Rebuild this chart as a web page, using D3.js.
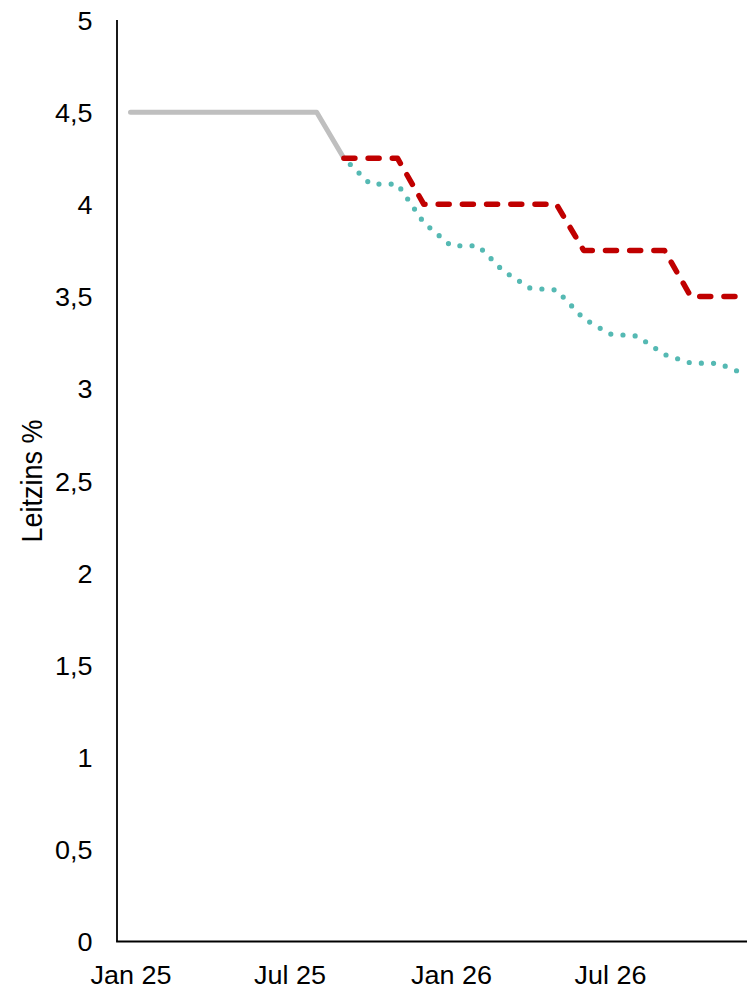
<!DOCTYPE html>
<html>
<head>
<meta charset="utf-8">
<script src="https://cdn.jsdelivr.net/npm/d3@7"></script>
<style>
  html, body { margin: 0; padding: 0; background: #fff; }
  svg { display: block; }
  text { font-family: "Liberation Sans", Arial, sans-serif; fill: #000; }
</style>
</head>
<body>
<svg id="chart" width="747" height="991"></svg>
<script>
// ---- data ----
const actualMonths = ["2025-01","2025-02","2025-03","2025-04","2025-05","2025-06","2025-07","2025-08","2025-09"];
const actualRate   = [4.5, 4.5, 4.5, 4.5, 4.5, 4.5, 4.5, 4.5, 4.25];

const forecastMonths = ["2025-09","2025-10","2025-11","2025-12","2026-01","2026-02","2026-03","2026-04",
                        "2026-05","2026-06","2026-07","2026-08","2026-09","2026-10","2026-11","2026-12"];
const redRate  = [4.25, 4.25, 4.25, 4.0, 4.0, 4.0, 4.0, 4.0, 4.0, 3.75, 3.75, 3.75, 3.75, 3.5, 3.5, 3.5];
const tealRate = [4.25, 4.11, 4.11, 3.90, 3.775, 3.775, 3.64, 3.545, 3.535, 3.38, 3.296, 3.285, 3.185, 3.139, 3.137, 3.08];

const xTickMonths = ["2025-01","2025-07","2026-01","2026-07"];
const xTickLabels = ["Jan 25","Jul 25","Jan 26","Jul 26"];
const yTicks = [0, 0.5, 1, 1.5, 2, 2.5, 3, 3.5, 4, 4.5, 5];
const yTitle = "Leitzins %";

// ---- setup ----
const parse = d3.timeParse("%Y-%m");
const svg = d3.select("#chart");
const W = 747, H = 991;
const stretch = 1.08;
svg.append("rect").attr("width", W).attr("height", H).attr("fill", "#fff");

const plotLeft = 117, plotRight = 747;
const x = d3.scaleTime()
  .domain([parse("2025-01"), parse("2026-07")])
  .range([130.5, 610]);
const y = d3.scaleLinear().domain([0, 5]).range([941.5, 20]);

// ---- axes lines ----
svg.append("line")
  .attr("x1", plotLeft).attr("x2", plotLeft)
  .attr("y1", y(5)).attr("y2", y(0))
  .attr("stroke", "#000").attr("stroke-width", 1.8);
svg.append("line")
  .attr("x1", plotLeft - 0.9).attr("x2", plotRight)
  .attr("y1", y(0)).attr("y2", y(0))
  .attr("stroke", "#000").attr("stroke-width", 1.8);

// ---- y axis labels ----
const fmt = d => String(d).replace(".", ",");
const yAxis = svg.append("g")
  .attr("transform", `translate(${plotLeft},0)`)
  .call(d3.axisLeft(y).tickValues(yTicks).tickSize(0).tickPadding(25).tickFormat(fmt));
yAxis.select(".domain").remove();
yAxis.selectAll("text")
  .attr("x", 0)
  .attr("transform", `translate(-24.5,0) scale(${stretch},1)`)
  .attr("font-size", 25)
  .attr("font-family", "Liberation Sans, Arial, sans-serif")
  .attr("fill", "#000")
  .attr("dy", "0.37em");

// ---- x axis labels ----
const xLabelMap = new Map(xTickMonths.map((m, i) => [+parse(m), xTickLabels[i]]));
const xAxis = svg.append("g")
  .attr("transform", `translate(0,${y(0)})`)
  .call(d3.axisBottom(x).tickValues(xTickMonths.map(parse)).tickSize(0).tickPadding(25)
    .tickFormat(d => xLabelMap.get(+d)));
xAxis.select(".domain").remove();
xAxis.selectAll("text")
  .attr("transform", `scale(${stretch},1)`)
  .attr("font-size", 25)
  .attr("font-family", "Liberation Sans, Arial, sans-serif")
  .attr("fill", "#000");

// ---- y title ----
svg.append("text")
  .attr("transform", `translate(41.5,481) scale(${stretch},1) rotate(-90)`)
  .attr("text-anchor", "middle")
  .attr("font-size", 27)
  .text(yTitle);

// ---- lines ----
const line = d3.line().x(d => x(d[0])).y(d => y(d[1]));

const actual = actualMonths.map((m, i) => [parse(m), actualRate[i]]);
const red = forecastMonths.map((m, i) => [parse(m), redRate[i]]);
const teal = forecastMonths.map((m, i) => [parse(m), tealRate[i]]);

svg.append("path").datum(actual)
  .attr("d", line)
  .attr("fill", "none")
  .attr("stroke", "#BFBFBF")
  .attr("stroke-width", 5)
  .attr("stroke-linecap", "round")
  .attr("stroke-linejoin", "round");

svg.append("path").datum(teal)
  .attr("d", line)
  .attr("fill", "none")
  .attr("stroke", "#55B9B3")
  .attr("stroke-width", 5.2)
  .attr("stroke-linecap", "round")
  .attr("stroke-linejoin", "round")
  .attr("stroke-dasharray", "0,12.2")
  .attr("stroke-dashoffset", -9);

svg.append("path").datum(red)
  .attr("d", line)
  .attr("fill", "none")
  .attr("stroke", "#C00000")
  .attr("stroke-width", 5.5)
  .attr("stroke-linecap", "round")
  .attr("stroke-linejoin", "round")
  .attr("stroke-dasharray", "11,13.2");
</script>
</body>
</html>
